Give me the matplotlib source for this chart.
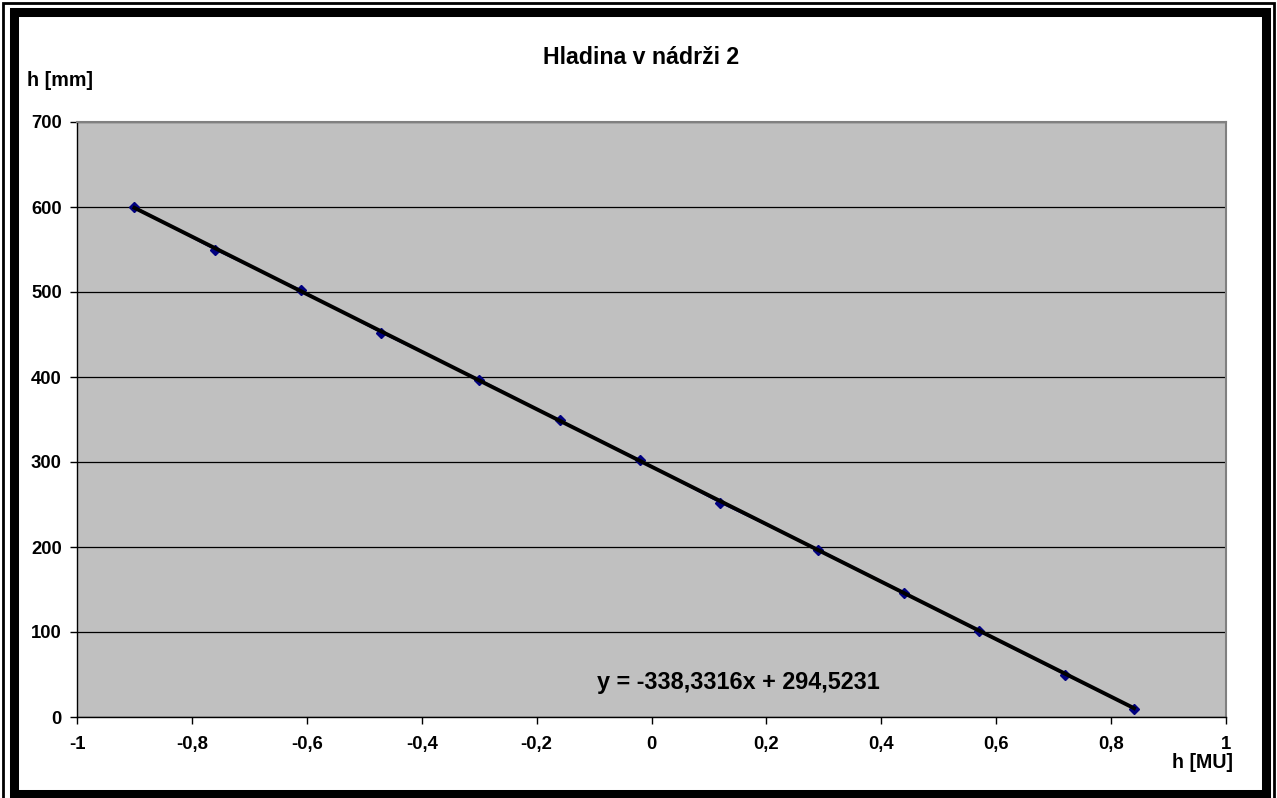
import matplotlib
matplotlib.use("Agg")
import matplotlib.pyplot as plt
from matplotlib.patches import Rectangle
import numpy as np

x_mu = [-0.90, -0.76, -0.61, -0.47, -0.30, -0.16, -0.02, 0.12, 0.29, 0.44, 0.57, 0.72, 0.84]
h_mm = [600, 550, 502, 452, 397, 349, 302, 252, 197, 146, 101, 50, 10]
slope, intercept = -338.3316, 294.5231
x_ticks = [-1, -0.8, -0.6, -0.4, -0.2, 0, 0.2, 0.4, 0.6, 0.8, 1]
x_tick_labels = ["-1", "-0,8", "-0,6", "-0,4", "-0,2", "0", "0,2", "0,4", "0,6", "0,8", "1"]
y_ticks = [0, 100, 200, 300, 400, 500, 600, 700]

plt.rcParams['font.family'] = ['Liberation Sans', 'DejaVu Sans']

W, H = 1277, 798
fig = plt.figure(figsize=(W / 100, H / 100), dpi=100)

# frame
r = Rectangle((3 / W, 1 - 801 / H), (1274 - 3) / W, (801 - 3) / H,
              transform=fig.transFigure, fill=False, edgecolor='black', linewidth=2.0)
fig.patches.append(r)
r = Rectangle((14 / W, 1 - 794 / H), (1266 - 14) / W, (794 - 12) / H,
              transform=fig.transFigure, fill=False, edgecolor='black', linewidth=6.5)
fig.patches.append(r)

ax = fig.add_axes([77 / W, 1 - 717 / H, (1226 - 77) / W, (717 - 122) / H])
ax.set_facecolor('#C0C0C0')
ax.set_xlim(-1, 1)
ax.set_ylim(0, 700)
ax.set_xticks(x_ticks)
ax.set_xticklabels(x_tick_labels, fontsize=13.3, fontweight='bold')
ax.set_yticks(y_ticks)
ax.set_yticklabels([str(v) for v in y_ticks], fontsize=13.3, fontweight='bold')
for s in ['top', 'right']:
    ax.spines[s].set_color('#808080')
    ax.spines[s].set_linewidth(1.5)
for s in ['left', 'bottom']:
    ax.spines[s].set_color('black')
    ax.spines[s].set_linewidth(1.0)
ax.tick_params(axis='y', direction='out', length=5, width=1, pad=6)
ax.tick_params(axis='x', direction='out', length=5, width=1, pad=9)
ax.yaxis.grid(True, color='black', linewidth=0.9)
ax.set_axisbelow(True)

ax.plot(x_mu, h_mm, color='#000080', linewidth=1.2, marker='D', markersize=5,
        markerfacecolor='#000080', markeredgecolor='#000080', zorder=3)
xf = np.array([min(x_mu), max(x_mu)])
ax.plot(xf, slope * xf + intercept, color='black', linewidth=2.8, zorder=4)

ax.text(0.152, 40, "y = -338,3316x + 294,5231", fontsize=16.8, fontweight='bold',
        ha='center', va='center')

fig.text(641 / W, 1 - 58 / H, "Hladina v nádrži 2", fontsize=16.7, fontweight='bold',
         ha='center', va='center')
fig.text(27 / W, 1 - 80 / H, "h [mm]", fontsize=14.2, fontweight='bold', ha='left', va='center')
fig.text(1233 / W, 1 - 762 / H, "h [MU]", fontsize=14.1, fontweight='bold', ha='right', va='center')

fig.savefig("out.png", dpi=100, facecolor='white')
